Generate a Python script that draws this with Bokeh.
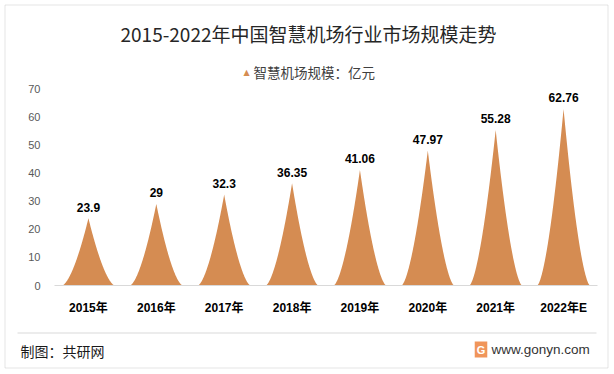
from bokeh.plotting import figure
from bokeh.models import Label, LabelSet, ColumnDataSource, Range1d, BoxAnnotation
from bokeh.core.properties import value
from bokeh.embed import file_html
from bokeh.resources import INLINE
import numpy as np

# ---- data ----
years = ["2015年", "2016年", "2017年", "2018年", "2019年", "2020年", "2021年", "2022年E"]
sizes = [23.9, 29, 32.3, 36.35, 41.06, 47.97, 55.28, 62.76]
size_labels = ["23.9", "29", "32.3", "36.35", "41.06", "47.97", "55.28", "62.76"]
y_ticks = [0, 10, 20, 30, 40, 50, 60, 70]
title_text = "2015-2022年中国智慧机场行业市场规模走势"
legend_text = "智慧机场规模：亿元"
source_text = "制图：共研网"
site_text = "www.gonyn.com"

ORANGE = "#D58C52"
CJK = "'Liberation Sans', 'Noto Sans CJK SC', sans-serif"

W, H = 614, 374
# plot area of the chart in page pixels
PL, PR, PT, PB = 54.0, 597.0, 88.0, 285.0
XPPU = (PR - PL) / 8.0
YPPU = (PB - PT) / 70.0


def dx(px):
    return -0.5 + (px - PL) / XPPU


def dy(py):
    return (PB - py) / YPPU


p = figure(width=W, height=H, output_backend="svg", toolbar_location=None,
           x_range=Range1d(dx(0), dx(W)), y_range=Range1d(dy(H), dy(0)),
           min_border=0, min_border_left=0, min_border_right=0,
           min_border_top=0, min_border_bottom=0,
           background_fill_color="white", border_fill_color="white")
p.outline_line_color = None
p.xgrid.visible = False
p.ygrid.visible = False

# peak shapes
xs, ys = [], []
u = np.linspace(-1, 1, 161)
for i, v in enumerate(sizes):
    xs.append(list(i + u * 0.39))
    ys.append(list(v * (1 - np.abs(u)) ** 1.6))
p.patches(xs, ys, fill_color=ORANGE, line_color=None)

# data labels
src = ColumnDataSource(dict(x=list(range(len(sizes))), y=sizes, t=size_labels))
p.add_layout(LabelSet(x="x", y="y", text="t", source=src, y_offset=11,
                      text_align="center", text_baseline="middle",
                      text_font=value("Liberation Sans"), text_font_style="bold",
                      text_font_size="12px", text_color="#000000"))

# axes (drawn at the chart's own plot area)
p.yaxis.fixed_location = -0.5
p.yaxis.bounds = (0, 70)
p.yaxis.ticker = y_ticks
p.yaxis.axis_line_color = None
p.yaxis.major_tick_line_color = None
p.yaxis.major_tick_out = 0
p.yaxis.major_tick_in = 0
p.yaxis.minor_tick_line_color = None
p.yaxis.major_label_standoff = 14
p.yaxis.major_label_text_font = "Liberation Sans"
p.yaxis.major_label_text_font_size = "11px"
p.yaxis.major_label_text_color = "#595959"

p.xaxis.fixed_location = 0
p.xaxis.bounds = (-0.5, 7.5)
p.xaxis.ticker = list(range(len(years)))
p.xaxis.major_label_overrides = {i: y for i, y in enumerate(years)}
p.xaxis.axis_line_color = "#d9d9d9"
p.xaxis.axis_line_width = 1
p.xaxis.major_tick_line_color = None
p.xaxis.major_tick_out = 0
p.xaxis.major_tick_in = 0
p.xaxis.minor_tick_line_color = None
p.xaxis.major_label_standoff = 15
p.xaxis.major_label_text_font = CJK
p.xaxis.major_label_text_font_style = "bold"
p.xaxis.major_label_text_font_size = "12px"
p.xaxis.major_label_text_color = "#000000"

# outer border
p.add_layout(BoxAnnotation(left=dx(4.5), right=dx(607.5), top=dy(4.5), bottom=dy(367.5),
                           fill_alpha=0, line_color="#a6a6a6", line_width=1))

# title
p.add_layout(Label(x=dx(308), y=dy(33), text=title_text, text_align="center",
                   text_baseline="middle", text_font="Noto Sans CJK SC",
                   text_font_size="19px", text_color="#262626"))
# legend
p.add_layout(Label(x=dx(246), y=dy(71.5), text="▲", text_align="center",
                   text_baseline="middle", text_font="DejaVu Sans",
                   text_font_size="8px", text_color=ORANGE))
p.add_layout(Label(x=dx(253), y=dy(71), text=legend_text, text_align="left",
                   text_baseline="middle", text_font="Noto Sans CJK SC",
                   text_font_size="13.5px", text_color="#404040"))

# footer separator
p.segment(x0=[dx(17)], x1=[dx(596)], y0=[dy(332.5)], y1=[dy(332.5)],
          line_color="#d9d9d9", line_width=1)
p.add_layout(Label(x=dx(20), y=dy(350), text=source_text, text_align="left",
                   text_baseline="middle", text_font="Noto Sans CJK SC",
                   text_font_size="14px", text_color="#1a1a1a"))
p.add_layout(Label(x=dx(480.5), y=dy(349), text="G", text_align="center",
                   text_baseline="middle", text_font="Liberation Sans",
                   text_font_style="bold", text_font_size="11px", text_color="white",
                   background_fill_color="#F0955A", padding=2))
p.add_layout(Label(x=dx(491), y=dy(349), text=site_text, text_align="left",
                   text_baseline="middle", text_font="Liberation Sans",
                   text_font_size="13.5px", text_color="#333333"))

open("out.html", "w").write(file_html(p, INLINE))
